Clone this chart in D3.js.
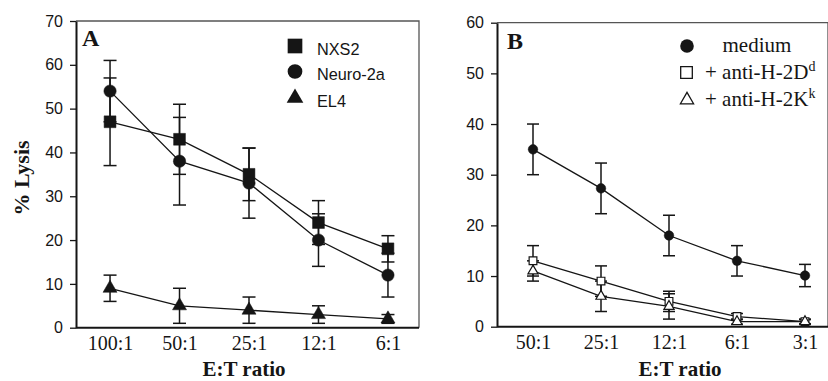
<!DOCTYPE html>
<html><head><meta charset="utf-8">
<script src="https://cdn.jsdelivr.net/npm/d3@7"></script>
<style>body{margin:0;background:#fff}svg{display:block}</style>
</head><body>
<svg id="c" width="828" height="381"></svg>
<script>
// ---- Data ----
const catsA = ["100:1","50:1","25:1","12:1","6:1"];
const nxs2 = [47,43,35,24,18];
const nxs2Err = [10,8,6,5,3];
const neuro2a = [54,38,33,20,12];
const neuro2aErr = [7,10,8,6,5];
const el4 = [9,5,4,3,2];
const el4Err = [3,4,3,2,1];
const ticksA = [0,10,20,30,40,50,60,70];

const catsB = ["50:1","25:1","12:1","6:1","3:1"];
const medium = [35,27.3,18,13,10.1];
const mediumErr = [5,5,4,3,2.2];
const antiD = [13,9,5,2,1];
const antiDErr = [3,3,2,0.6,0.5];
const antiK = [11,6,4,1,1];
const antiKErr = [2,3,2.5,0.5,0.4];
const ticksB = [0,10,20,30,40,50,60];

const svg = d3.select("#c");
const INK = "#151515";
const SANS = "'Liberation Sans', Arial, sans-serif";
const SERIF = "'Liberation Serif', 'Times New Roman', serif";

function panel(o){
  const g = svg.append("g");
  const x = d3.scalePoint().domain(o.cats).range(o.xr).padding(0.5);
  const y = d3.scaleLinear().domain([0,o.ymax]).range([o.y0,o.y1]);
  g.append("path").attr("d",`M${o.left},${o.y1}H${o.right}V${o.y0}`)
    .attr("fill","none").attr("stroke","#555").attr("stroke-width",1.3);
  const xa = g.append("g").attr("transform",`translate(0,${o.y0})`)
    .call(d3.axisBottom(x).tickSize(0).tickPadding(8));
  xa.select(".domain").remove();
  g.append("line").attr("x1",o.left).attr("x2",o.right).attr("y1",o.y0).attr("y2",o.y0)
    .attr("stroke",INK).attr("stroke-width",2);
  xa.selectAll("text").attr("font-family",SERIF).attr("font-size",20).attr("fill",INK);
  const ya = g.append("g").attr("transform",`translate(${o.left},0)`)
    .call(d3.axisLeft(y).tickValues(o.ticks).tickSize(6).tickPadding(7).tickSizeOuter(0));
  ya.select(".domain").attr("stroke",INK).attr("stroke-width",2);
  ya.selectAll(".tick line").attr("stroke",INK).attr("stroke-width",1.3);
  ya.selectAll("text").attr("font-family",SANS).attr("font-size",16).attr("fill",INK);

  const line = d3.line().x((d,i)=>x(o.cats[i])).y(d=>y(d));
  o.series.forEach(s=>{
    g.append("path").datum(s.v).attr("d",line).attr("fill","none")
      .attr("stroke",INK).attr("stroke-width",1.3);
  });
  o.series.forEach(s=>{
    const eb = g.append("g").attr("stroke",INK).attr("stroke-width",1.5);
    s.v.forEach((v,i)=>{
      const cx = x(o.cats[i]), lo = y(v - s.e[i]), hi = y(v + s.e[i]);
      eb.append("line").attr("x1",cx).attr("x2",cx).attr("y1",lo).attr("y2",hi);
      eb.append("line").attr("x1",cx-o.cap).attr("x2",cx+o.cap).attr("y1",lo).attr("y2",lo);
      eb.append("line").attr("x1",cx-o.cap).attr("x2",cx+o.cap).attr("y1",hi).attr("y2",hi);
    });
  });
  o.series.forEach(s=>{
    const sym = d3.symbol().type(s.type).size(s.size);
    s.v.forEach((v,i)=>{
      g.append("path").attr("d",sym())
        .attr("transform",`translate(${x(o.cats[i])},${y(v)})`)
        .attr("fill",s.open?"#fff":INK).attr("stroke",INK).attr("stroke-width",s.open?1.2:0.5);
    });
  });
  g.append("text").attr("x",o.lx).attr("y",o.ly).text(o.letter)
    .attr("font-family",SERIF).attr("font-weight","bold").attr("font-size",24).attr("fill",INK);
  g.append("text").attr("x",o.tx).attr("y",376).attr("text-anchor","middle").text("E:T ratio")
    .attr("font-family",SERIF).attr("font-weight","bold").attr("font-size",21).attr("fill",INK);
  return g;
}

// Panel A
panel({cats:catsA, xr:[75.3,422.7], ymax:70, y0:327.7, y1:21, left:76, right:419,
  ticks:ticksA, cap:6.5, letter:"A", lx:82, ly:46, tx:244,
  series:[
    {v:nxs2, e:nxs2Err, type:d3.symbolSquare, size:140},
    {v:neuro2a, e:neuro2aErr, type:d3.symbolCircle, size:120},
    {v:el4, e:el4Err, type:d3.symbolTriangle, size:85}
  ]});
svg.append("text").attr("transform","translate(28.5,178) rotate(-90)").attr("text-anchor","middle")
  .text("% Lysis").attr("font-family",SERIF).attr("font-weight","bold").attr("font-size",22).attr("fill",INK);

const legA = [
  {t:"NXS2", type:d3.symbolSquare, size:215, y:46},
  {t:"Neuro-2a", type:d3.symbolCircle, size:170, y:71.5},
  {t:"EL4", type:d3.symbolTriangle, size:120, y:98}
];
legA.forEach(d=>{
  svg.append("path").attr("d",d3.symbol().type(d.type).size(d.size)())
    .attr("transform",`translate(295,${d.y})`).attr("fill",INK);
  svg.append("text").attr("x",317).attr("y",d.y+8.5).text(d.t)
    .attr("font-family",SANS).attr("font-size",16.3).attr("fill",INK);
});

// Panel B
panel({cats:catsB, xr:[499,839], ymax:60, y0:326.7, y1:22.7, left:497, right:828,
  ticks:ticksB, cap:6, letter:"B", lx:507, ly:49, tx:680,
  series:[
    {v:medium, e:mediumErr, type:d3.symbolCircle, size:72},
    {v:antiD, e:antiDErr, type:d3.symbolSquare, size:60, open:true},
    {v:antiK, e:antiKErr, type:d3.symbolTriangle, size:45, open:true}
  ]});

svg.append("path").attr("d",d3.symbol().type(d3.symbolCircle).size(145)())
  .attr("transform","translate(687,46)").attr("fill",INK);
svg.append("path").attr("d",d3.symbol().type(d3.symbolSquare).size(135)())
  .attr("transform","translate(686.5,72.5)").attr("fill","#fff").attr("stroke",INK).attr("stroke-width",1.3);
svg.append("path").attr("d",d3.symbol().type(d3.symbolTriangle).size(75)())
  .attr("transform","translate(687,100)").attr("fill","#fff").attr("stroke",INK).attr("stroke-width",1.3);
svg.append("text").attr("x",722.5).attr("y",52).text("medium")
  .attr("font-family",SERIF).attr("font-size",21).attr("fill",INK);
const tD = svg.append("text").attr("x",705).attr("y",78.5)
  .attr("font-family",SERIF).attr("font-size",21).attr("fill",INK);
tD.append("tspan").text("+ anti-H-2D");
tD.append("tspan").attr("dy",-8).attr("font-size",14).text("d");
const tK = svg.append("text").attr("x",705).attr("y",106)
  .attr("font-family",SERIF).attr("font-size",21).attr("fill",INK);
tK.append("tspan").text("+ anti-H-2K");
tK.append("tspan").attr("dy",-8).attr("font-size",14).text("k");
</script>
</body></html>
